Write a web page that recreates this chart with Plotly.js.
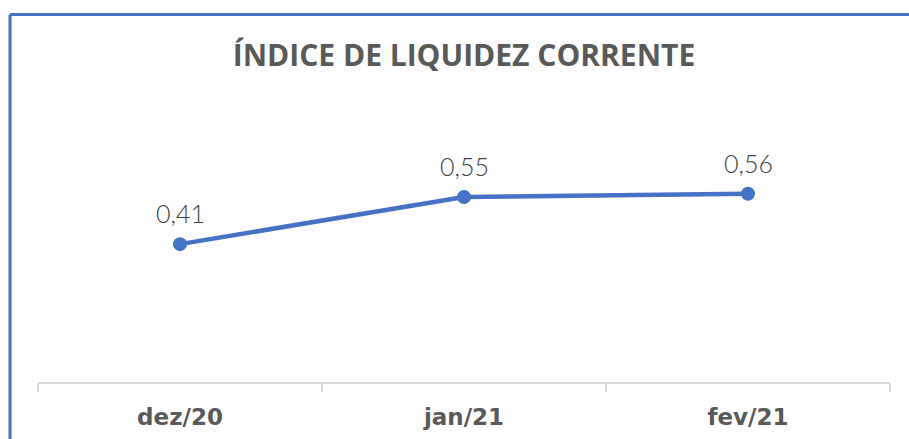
<!DOCTYPE html>
<html>
<head>
<meta charset="utf-8">
<script src="https://cdn.plot.ly/plotly-3.0.1.min.js"></script>
<style>
html,body{margin:0;padding:0;background:#fff;}
#chart{width:909px;height:439px;}
</style>
</head>
<body>
<div id="chart"></div>
<script>
const categories = ["dez/20", "jan/21", "fev/21"];
const values = [0.41, 0.55, 0.56];
const valueLabels = ["0,41", "0,55", "0,56"];
const chartTitle = "ÍNDICE DE LIQUIDEZ CORRENTE";

const frameColor = "#4472C4";
const trace = {
  x: categories,
  y: values,
  type: "scatter",
  mode: "lines+markers",
  line: {color: "#4472C4", width: 4.5},
  marker: {color: "#4472C4", size: 14},
  hoverinfo: "none"
};

const annotations = categories.map((c, i) => ({
  x: c, y: values[i], xref: "x", yref: "y",
  text: valueLabels[i], showarrow: false, yshift: 31,
  font: {family: "Lato, 'Open Sans', sans-serif", size: 25, color: "#404040", weight: 300}
}));

const layout = {
  width: 909, height: 439,
  margin: {l: 38, r: 19, t: 113, b: 57},
  paper_bgcolor: "#ffffff", plot_bgcolor: "#ffffff",
  showlegend: false,
  title: {
    text: chartTitle,
    font: {family: "'Open Sans', sans-serif", size: 30, color: "#595959", weight: 700},
    x: 0.5, xref: "paper", xanchor: "center",
    y: 1 - 55/439, yref: "container", yanchor: "middle"
  },
  xaxis: {
    type: "category",
    range: [-0.5, 2.5],
    showline: true, linecolor: "#d9d9d9", linewidth: 1.5,
    ticks: "outside", tickson: "boundaries", ticklen: 8, tickcolor: "#d9d9d9", tickwidth: 1.5,
    showgrid: false, zeroline: false,
    tickfont: {family: "'DejaVu Sans', sans-serif", size: 23, color: "#595959", weight: 700},
    ticklabelstandoff: 14,
    fixedrange: true
  },
  yaxis: {
    range: [0, 0.8], visible: false, fixedrange: true
  },
  annotations: annotations,
  shapes: [
    {type: "line", xref: "paper", yref: "paper",
     x0: (10 - 38) / 852, x1: (10 - 38) / 852, y0: -0.3, y1: 1 + (113 - 14.5) / 269,
     line: {color: frameColor, width: 3}},
    {type: "line", xref: "paper", yref: "paper",
     x0: (10 - 38) / 852, x1: 1.1, y0: 1 + (113 - 14.5) / 269, y1: 1 + (113 - 14.5) / 269,
     line: {color: frameColor, width: 3}}
  ]
};

Plotly.newPlot("chart", [trace], layout, {displayModeBar: false, staticPlot: true});
</script>
</body>
</html>
